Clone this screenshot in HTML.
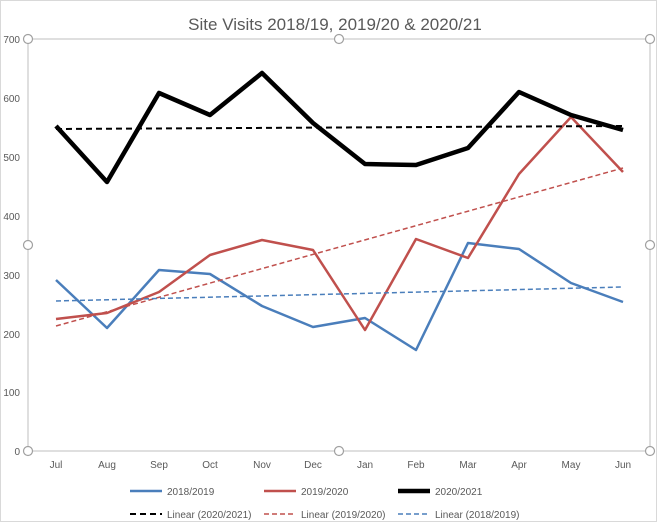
<!DOCTYPE html>
<html><head><meta charset="utf-8"><style>body{margin:0;background:#fff}svg{display:block}text{font-family:"Liberation Sans",sans-serif}</style></head><body>
<svg width="657" height="522" viewBox="0 0 657 522" xmlns="http://www.w3.org/2000/svg">
<rect x="0.5" y="0.5" width="656" height="521" fill="#fff" stroke="#d9d9d9"/>
<rect x="28" y="39" width="622" height="412" fill="none" stroke="#bfbfbf" stroke-width="1"/>
<text x="335" y="30" font-size="17" fill="#595959" text-anchor="middle">Site Visits 2018/19, 2019/20 &amp; 2020/21</text>
<g font-size="10" fill="#595959" text-anchor="end">
<text x="20" y="43">700</text><text x="20" y="102">600</text><text x="20" y="161">500</text><text x="20" y="220">400</text><text x="20" y="279">300</text><text x="20" y="338">200</text><text x="20" y="396">100</text><text x="20" y="455">0</text>
</g>
<g font-size="10" fill="#595959" text-anchor="middle">
<text x="56" y="468">Jul</text><text x="107" y="468">Aug</text><text x="159" y="468">Sep</text><text x="210" y="468">Oct</text><text x="262" y="468">Nov</text><text x="313" y="468">Dec</text><text x="365" y="468">Jan</text><text x="416" y="468">Feb</text><text x="468" y="468">Mar</text><text x="519" y="468">Apr</text><text x="571" y="468">May</text><text x="623" y="468">Jun</text>
</g>
<g fill="none" stroke-linejoin="round">
<polyline stroke="#4a7ebb" stroke-width="2.5" points="56,280 107,328 159,270 210,274 262,306 313,327 365,318 416,350 468,243 519,249 571,283 623,302"/>
<polyline stroke="#c0504d" stroke-width="2.5" points="56,319 107,313 159,292 210,255 262,240 313,250 365,330 416,239 468,258 519,174 571,117 623,172"/>
<polyline stroke="#000" stroke-width="4.5" points="56,126 107,182 159,93 210,115 262,73 313,123 365,164 416,165 468,148 519,92 571,115 623,130"/>
<line x1="56" y1="129" x2="623" y2="126" stroke="#000" stroke-width="2" stroke-dasharray="6,4"/>
<line x1="56" y1="326" x2="623" y2="168" stroke="#c0504d" stroke-width="1.5" stroke-dasharray="5,3"/>
<line x1="56" y1="301" x2="623" y2="287" stroke="#4a7ebb" stroke-width="1.5" stroke-dasharray="5,3"/>
</g>
<g fill="#fff" stroke="#a0a0a0" stroke-width="1.2">
<circle cx="28" cy="39" r="4.5"/><circle cx="339" cy="39" r="4.5"/><circle cx="650" cy="39" r="4.5"/>
<circle cx="28" cy="245" r="4.5"/><circle cx="650" cy="245" r="4.5"/>
<circle cx="28" cy="451" r="4.5"/><circle cx="339" cy="451" r="4.5"/><circle cx="650" cy="451" r="4.5"/>
</g>
<g font-size="10" fill="#595959">
<line x1="130" y1="491" x2="162" y2="491" stroke="#4a7ebb" stroke-width="2.5"/><text x="167" y="495">2018/2019</text>
<line x1="264" y1="491" x2="296" y2="491" stroke="#c0504d" stroke-width="2.5"/><text x="301" y="495">2019/2020</text>
<line x1="398" y1="491" x2="430" y2="491" stroke="#000" stroke-width="4.5"/><text x="435" y="495">2020/2021</text>
<line x1="130" y1="514" x2="162" y2="514" stroke="#000" stroke-width="2" stroke-dasharray="6,4"/><text x="167" y="518">Linear (2020/2021)</text>
<line x1="264" y1="514" x2="296" y2="514" stroke="#c0504d" stroke-width="1.5" stroke-dasharray="5,3"/><text x="301" y="518">Linear (2019/2020)</text>
<line x1="398" y1="514" x2="430" y2="514" stroke="#4a7ebb" stroke-width="1.5" stroke-dasharray="5,3"/><text x="435" y="518">Linear (2018/2019)</text>
</g>
</svg>
</body></html>
